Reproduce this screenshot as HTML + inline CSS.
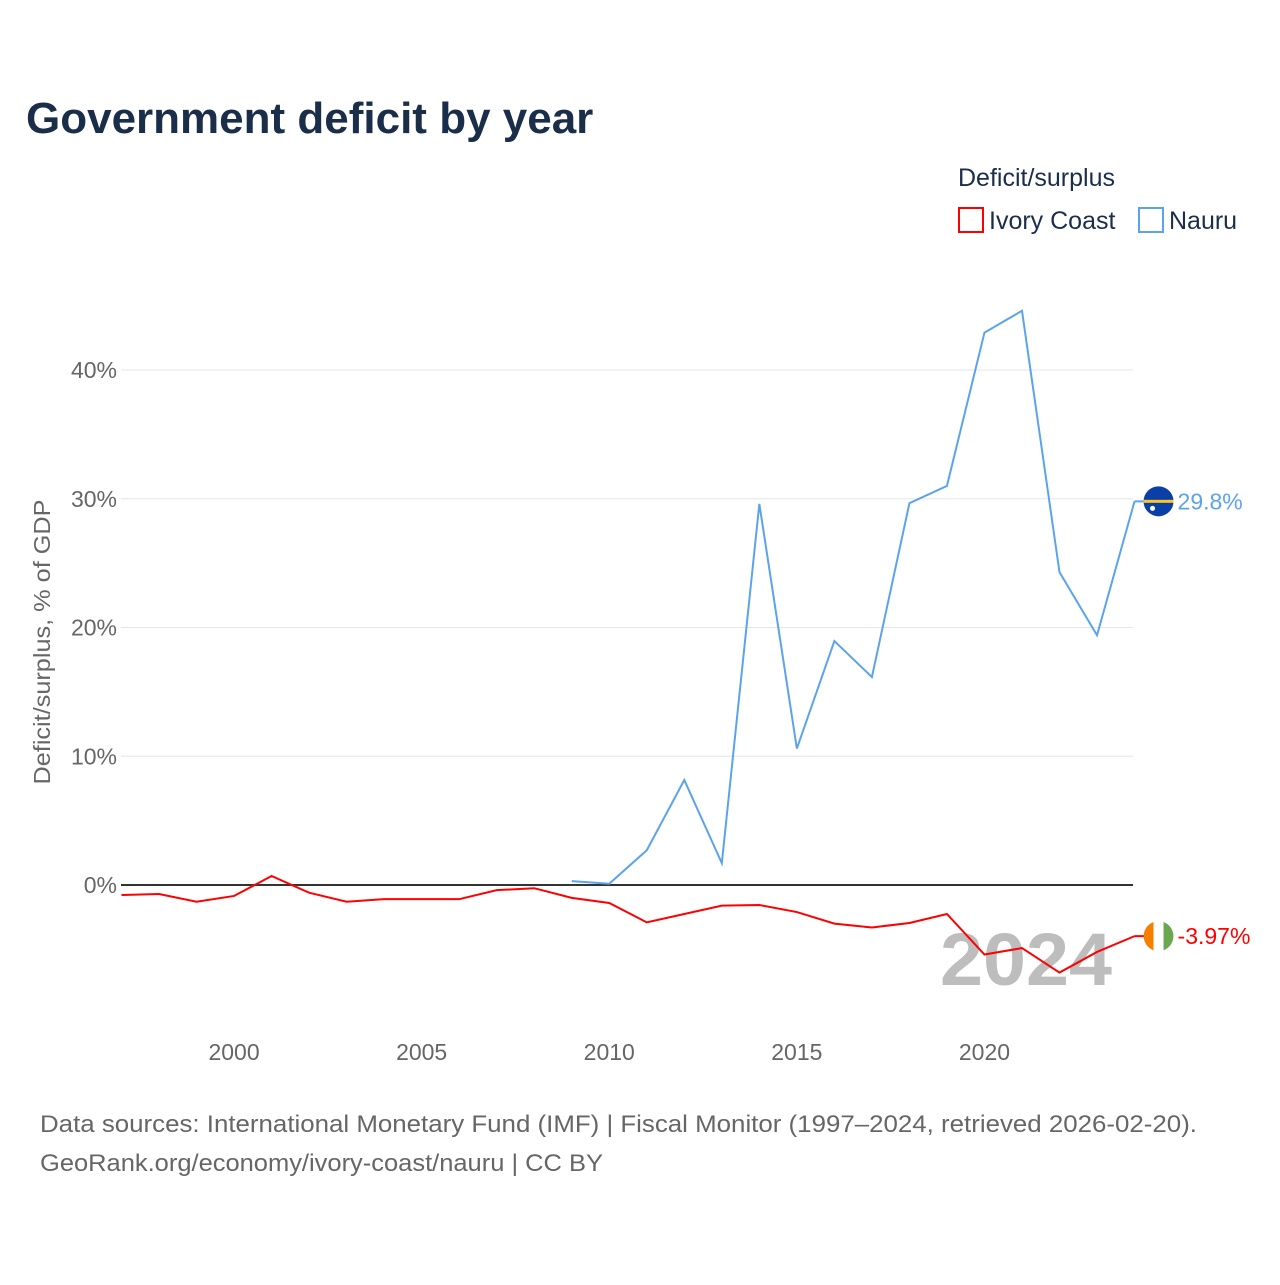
<!DOCTYPE html>
<html><head><meta charset="utf-8">
<style>
body{margin:0;background:#fff;font-family:"Liberation Sans",sans-serif;}
svg text{font-family:"Liberation Sans",sans-serif;}
</style></head>
<body>
<svg id="chart" width="1280" height="1280" viewBox="0 0 1280 1280" xmlns="http://www.w3.org/2000/svg">
<rect width="1280" height="1280" fill="#fff"/>
<text x="26" y="133" font-size="44" font-weight="bold" fill="#1a2e4a">Government deficit by year</text>
<text x="958" y="186" font-size="25" fill="#1a2e4a">Deficit/surplus</text>
<g>
<rect x="959" y="208" width="24" height="24" fill="none" stroke="#ff0000" stroke-width="2"/>
<text x="989" y="229" font-size="25" fill="#1a2e4a">Ivory Coast</text></g>
<g>
<rect x="1139" y="208" width="24" height="24" fill="none" stroke="#5ba3ea" stroke-width="2"/>
<text x="1169" y="229" font-size="25" fill="#1a2e4a">Nauru</text></g>
<text transform="translate(50,642) rotate(-90)" text-anchor="middle" font-size="23" fill="#666" textLength="285" lengthAdjust="spacingAndGlyphs">Deficit/surplus, % of GDP</text>
<g id="grid"></g>
<text x="940" y="985" font-size="74" font-weight="bold" fill="#bdbdbd" textLength="172" lengthAdjust="spacingAndGlyphs">2024</text>
<g id="series"></g>
<text x="40" y="1132" font-size="24" fill="#666" textLength="1157" lengthAdjust="spacingAndGlyphs">Data sources: International Monetary Fund (IMF) | Fiscal Monitor (1997–2024, retrieved 2026-02-20).</text>
<text x="40" y="1171" font-size="24" fill="#666" textLength="563" lengthAdjust="spacingAndGlyphs">GeoRank.org/economy/ivory-coast/nauru | CC BY</text>
</svg>
<script>
const years = [1997,1998,1999,2000,2001,2002,2003,2004,2005,2006,2007,2008,2009,2010,2011,2012,2013,2014,2015,2016,2017,2018,2019,2020,2021,2022,2023,2024];
const ivoryCoast = [-0.78,-0.7,-1.3,-0.85,0.7,-0.6,-1.3,-1.1,-1.1,-1.1,-0.4,-0.25,-1.0,-1.4,-2.9,-2.25,-1.6,-1.55,-2.1,-3.0,-3.3,-2.95,-2.25,-5.4,-4.9,-6.8,-5.2,-3.97];
const nauruYears = [2009,2010,2011,2012,2013,2014,2015,2016,2017,2018,2019,2020,2021,2022,2023,2024];
const nauru = [0.3,0.1,2.7,8.15,1.7,29.6,10.6,18.95,16.15,29.65,31.0,42.9,44.6,24.3,19.4,29.8];
const yTicks = [0,10,20,30,40];
const xTicks = [2000,2005,2010,2015,2020];

const NS="http://www.w3.org/2000/svg";
const x = yr => 121.5 + (yr-1997)*37.52;
const y = v => 885 - v*12.875;
const grid = document.getElementById('grid');
const ser = document.getElementById('series');
function mk(tag, attrs, parent){const e=document.createElementNS(NS,tag);for(const k in attrs)e.setAttribute(k,attrs[k]);parent.appendChild(e);return e;}
yTicks.forEach(t=>{
  if(t!==0){const l=mk('line',{x1:121,x2:1133,y1:y(t),y2:y(t),stroke:'#e6e6e6','stroke-width':1},grid);
  
  }
  const tx=mk('text',{x:117,y:y(t)+8,'text-anchor':'end','font-size':23,fill:'#666'},grid);
  tx.textContent=t+'%';
  
  
});
const zl=mk('line',{x1:121,x2:1133,y1:y(0),y2:y(0),stroke:'#333','stroke-width':2},grid);


xTicks.forEach(t=>{
  const tx=mk('text',{x:x(t),y:1060,'text-anchor':'middle','font-size':23,fill:'#666'},grid);
  tx.textContent=t;
  
  
});
const p1=mk('polyline',{points:years.map((yr,i)=>x(yr)+','+y(ivoryCoast[i])).join(' '),fill:'none',stroke:'#ff0000','stroke-width':2},ser);


const p2=mk('polyline',{points:nauruYears.map((yr,i)=>x(yr)+','+y(nauru[i])).join(' '),fill:'none',stroke:'#5ba3ea','stroke-width':2},ser);


const lastN=nauru[nauru.length-1], lastI=ivoryCoast[ivoryCoast.length-1];
const cx=x(2024)+24;
const nl=mk('line',{x1:x(2024),x2:cx,y1:y(lastN),y2:y(lastN),stroke:'#5ba3ea','stroke-width':2},ser);


const nf=mk('g',{},ser);


mk('circle',{cx:cx,cy:y(lastN),r:15,fill:'#0b3fa8'},nf);
mk('rect',{x:cx-15,y:y(lastN)-1.5,width:30,height:3,fill:'#ffc61e'},nf);
mk('circle',{cx:cx-6,cy:y(lastN)+7,r:2.5,fill:'#fff'},nf);
const nt=mk('text',{x:cx+19,y:y(lastN)+8,'font-size':23,fill:'#5ba3ea'},ser);
nt.textContent=lastN.toFixed(1)+'%';


const il=mk('line',{x1:x(2024),x2:cx,y1:y(lastI),y2:y(lastI),stroke:'#ff0000','stroke-width':2},ser);


const iff=mk('g',{},ser);


const cy=y(lastI);
mk('path',{d:`M${cx-5},${cy-14.1} A15,15 0 0 0 ${cx-5},${cy+14.1} Z`,fill:'#f77f00'},iff);
mk('rect',{x:cx-5,y:cy-15,width:10,height:30,fill:'#fff'},iff);
mk('path',{d:`M${cx+5},${cy-14.1} A15,15 0 0 1 ${cx+5},${cy+14.1} Z`,fill:'#6aa84f'},iff);
const it=mk('text',{x:cx+19,y:cy+8,'font-size':23,fill:'#ff0000'},ser);
it.textContent=lastI.toFixed(2)+'%';


</script>
</body></html>
